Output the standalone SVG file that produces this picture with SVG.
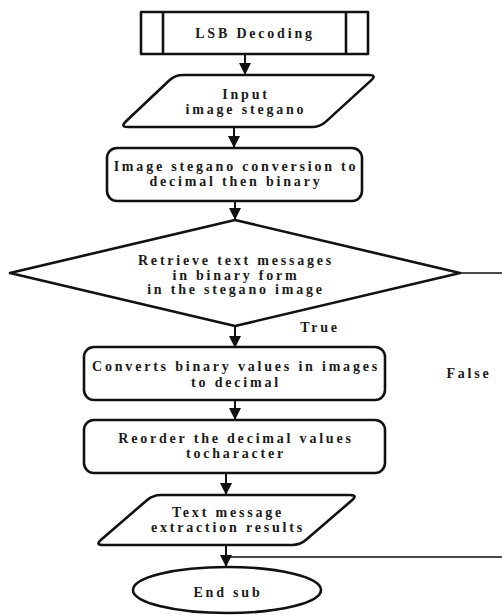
<svg xmlns="http://www.w3.org/2000/svg" width="502" height="615" viewBox="0 0 502 615">
<defs>
<style>
.s{fill:#fff;stroke:#111;stroke-width:2.6;stroke-linejoin:round}
.c{fill:none;stroke:#111;stroke-width:2}
.f{fill:none;stroke:#111;stroke-width:1.4}
.t{font-family:'Liberation Serif','Times New Roman','DejaVu Serif',serif;font-weight:700;font-size:14px;letter-spacing:2.8px;fill:#1a1a1a;text-anchor:middle}
</style>
<marker id="ah" markerUnits="userSpaceOnUse" markerWidth="14" markerHeight="12" refX="12" refY="6" orient="auto">
<path d="M0,0 L12,6 L0,12 Z" fill="#111"/>
</marker>
</defs>
<rect width="502" height="615" fill="#fff"/>
<g id="connectors">
<line class="c" x1="245" y1="54" x2="245" y2="75" marker-end="url(#ah)"/>
<line class="c" x1="234" y1="127" x2="234" y2="148" marker-end="url(#ah)"/>
<line class="c" x1="235" y1="201" x2="235" y2="220" marker-end="url(#ah)"/>
<line class="c" x1="235" y1="326" x2="235" y2="348" marker-end="url(#ah)"/>
<line class="c" x1="235" y1="400" x2="235" y2="420" marker-end="url(#ah)"/>
<line class="c" x1="226" y1="473" x2="226" y2="495" marker-end="url(#ah)"/>
<line class="c" x1="226" y1="545" x2="226" y2="567" marker-end="url(#ah)"/>
<path class="f" d="M460,273 H506 V557 H226"/>
<text class="t" x="320" y="332">True</text>
<text class="t" x="469" y="378">False</text>
</g>
<g id="start">
<rect class="s" x="141" y="12" width="227" height="42"/>
<line class="s" x1="163" y1="12" x2="163" y2="54"/>
<line class="s" x1="346" y1="12" x2="346" y2="54"/>
<text class="t" x="255" y="38">LSB Decoding</text>
</g>
<g id="input">
<path class="s" d="M183,75 L369,75 Q377,75 371.1,80.4 L325.9,121.6 Q320,127 312,127 L128,127 Q120,127 125.8,121.5 L169.2,80.5 Q175,75 183,75 Z"/>
<text class="t" x="246" y="99">Input</text>
<text class="t" x="246" y="114">image stegano</text>
</g>
<g id="convert">
<rect class="s" x="107" y="148" width="255" height="53" rx="10"/>
<text class="t" x="236" y="171">Image stegano conversion to</text>
<text class="t" x="236" y="186">decimal then binary</text>
</g>
<g id="decision">
<path class="s" d="M235,220 L460,273 L235,326 L10,273 Z"/>
<text class="t" x="236" y="265">Retrieve text messages</text>
<text class="t" x="236" y="279.5">in binary form</text>
<text class="t" x="236" y="294">in the stegano image</text>
</g>
<g id="tobinary">
<rect class="s" x="84" y="347" width="301" height="53" rx="10"/>
<text class="t" x="236" y="371">Converts binary values in images</text>
<text class="t" x="236" y="387">to decimal</text>
</g>
<g id="reorder">
<rect class="s" x="84" y="420" width="301" height="53" rx="10"/>
<text class="t" x="236" y="443">Reorder the decimal values</text>
<text class="t" x="236" y="458">tocharacter</text>
</g>
<g id="output">
<path class="s" d="M161,495 L350,495 Q358,495 352,500.2 L306.1,539.8 Q300,545 292,545 L103,545 Q95,545 101.1,539.8 L146.9,500.2 Q153,495 161,495 Z"/>
<text class="t" x="228" y="517">Text message</text>
<text class="t" x="228" y="532">extraction results</text>
</g>
<g id="end">
<ellipse class="s" cx="227" cy="590" rx="94" ry="23"/>
<text class="t" x="228" y="597">End sub</text>
</g>
</svg>
